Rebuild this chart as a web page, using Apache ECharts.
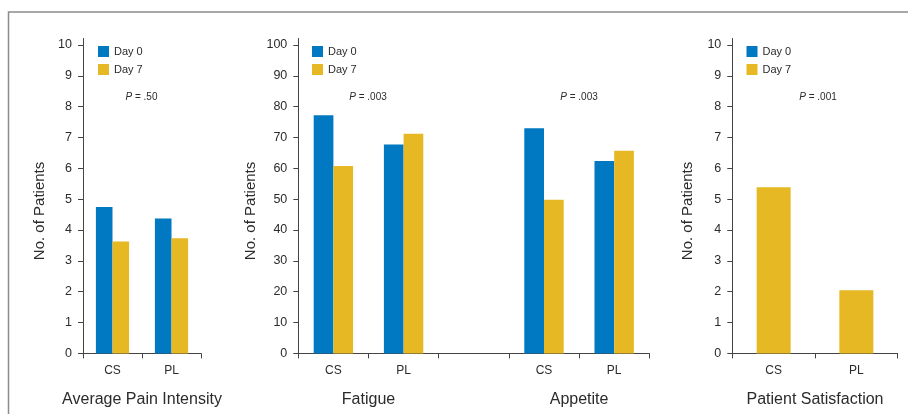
<!DOCTYPE html>
<html>
<head>
<meta charset="utf-8">
<script src="https://cdn.jsdelivr.net/npm/echarts@6/dist/echarts.min.js"></script>
<style>
  html, body { margin: 0; padding: 0; background: #fff; }
  #chart { width: 908px; height: 414px; }
</style>
</head>
<body>
<div id="chart"></div>
<script>
// ---- data ----
const painCategories = ['CS', 'PL'];
const painDay0 = [4.75, 4.37];
const painDay7 = [3.63, 3.73];

const faCategories = ['CS', 'PL', '', 'CS', 'PL'];
const faDay0 = [77.2, 67.7, null, 73.0, 62.4];
const faDay7 = [60.8, 71.2, null, 49.8, 65.7];
const faGroupLabels = ['', 'Fatigue', '', '', 'Appetite', ''];

const satCategories = ['CS', 'PL'];
const satDay7 = [5.39, 2.05];

const ticksSmall = [0, 1, 2, 3, 4, 5, 6, 7, 8, 9, 10];
const ticksLarge = [0, 10, 20, 30, 40, 50, 60, 70, 80, 90, 100];

const seriesNames = ['Day 0', 'Day 7'];
const pValues = ['.50', '.003', '.003', '.001'];
const panelTitles = ['Average Pain Intensity', 'Fatigue', 'Appetite', 'Patient Satisfaction'];
// ---------------

const BLUE = '#0079C2';
const YELLOW = '#E6B823';
const TXT = '#2b2b2b';
const AXIS = '#444';
const SANS = "'Liberation Sans', Arial, Helvetica, sans-serif";

const chart = echarts.init(document.getElementById('chart'), null, { renderer: 'canvas' });

function yAxis(gridIndex, max, ticks, nameGap) {
  return {
    type: 'value', gridIndex, min: 0, max,
    name: 'No. of Patients', nameLocation: 'middle', nameGap,
    nameTextStyle: { fontFamily: SANS, fontSize: 15, color: TXT, padding: [0, 30, 0, 0] },
    axisLine: { show: true, lineStyle: { color: AXIS, width: 1 } },
    axisTick: { show: true, length: 5, lineStyle: { color: AXIS }, customValues: ticks },
    axisLabel: { fontFamily: SANS, fontSize: 12.5, color: TXT, margin: 11, customValues: ticks },
    splitLine: { show: false }
  };
}
function xAxis(gridIndex, data, name) {
  return {
    type: 'category', gridIndex, data,
    name: name || '', nameLocation: 'middle', nameGap: 38,
    nameTextStyle: { fontFamily: SANS, fontSize: 16, color: TXT },
    axisLine: { show: true, lineStyle: { color: AXIS, width: 1 } },
    axisTick: { show: true, length: 5, lineStyle: { color: AXIS } },
    axisLabel: { fontFamily: SANS, fontSize: 12, color: TXT, margin: 11, interval: 0 }
  };
}
function legend(left) {
  return {
    left, top: 46, orient: 'vertical', padding: 0,
    itemWidth: 11, itemHeight: 11, itemGap: 7, icon: 'rect',
    data: seriesNames,
    textStyle: { fontFamily: SANS, fontSize: 11, color: TXT }
  };
}
function pTitle(left, p) {
  return {
    text: '{i|P} = ' + p, left, top: 92, textAlign: 'center', padding: 0,
    textStyle: { fontFamily: SANS, fontSize: 10, fontWeight: 'normal', color: TXT,
      rich: { i: { fontFamily: SANS, fontSize: 10, fontStyle: 'italic', color: TXT } } }
  };
}

const option = {
  animation: false,
  backgroundColor: '#fff',
  color: [BLUE, YELLOW],
  grid: [
    { left: 83, top: 38.5, width: 118, height: 314.9 },
    { left: 298.3, top: 38.5, width: 351, height: 314.9 },
    { left: 732.3, top: 38.5, width: 165.4, height: 314.9 }
  ],
  xAxis: [
    xAxis(0, painCategories, panelTitles[0]),
    xAxis(1, faCategories),
    {
      type: 'category', gridIndex: 1, data: faGroupLabels, boundaryGap: false, position: 'bottom', offset: 0,
      axisLine: { show: false }, axisTick: { show: false },
      axisLabel: { fontFamily: SANS, fontSize: 16, color: TXT, margin: 38, interval: 0 }
    },
    xAxis(2, satCategories, panelTitles[3])
  ],
  yAxis: [
    yAxis(0, 10.21, ticksSmall, 36),
    yAxis(1, 102.1, ticksLarge, 40),
    yAxis(2, 10.21, ticksSmall, 37)
  ],
  legend: [legend(98), legend(312), legend(746.5)],
  title: [pTitle(141.5, pValues[0]), pTitle(368, pValues[1]), pTitle(579, pValues[2]), pTitle(818, pValues[3])],
  series: [
    { name: seriesNames[0], type: 'bar', xAxisIndex: 0, yAxisIndex: 0, data: painDay0, barWidth: 16.6, barGap: 0, itemStyle: { color: BLUE } },
    { name: seriesNames[1], type: 'bar', xAxisIndex: 0, yAxisIndex: 0, data: painDay7, barWidth: 16.6, barGap: 0, itemStyle: { color: YELLOW } },
    { name: seriesNames[0], type: 'bar', xAxisIndex: 1, yAxisIndex: 1, data: faDay0, barWidth: 19.7, barGap: 0, itemStyle: { color: BLUE } },
    { name: seriesNames[1], type: 'bar', xAxisIndex: 1, yAxisIndex: 1, data: faDay7, barWidth: 19.7, barGap: 0, itemStyle: { color: YELLOW } },
    { name: seriesNames[1], type: 'bar', xAxisIndex: 3, yAxisIndex: 2, data: satDay7, barWidth: 34, itemStyle: { color: YELLOW } }
  ],
  graphic: [
    { type: 'polyline', silent: true, shape: { points: [[8.5, 414], [8.5, 12], [908, 12]] },
      style: { stroke: '#8c8c8c', lineWidth: 1.5, fill: null } }
  ]
};
chart.setOption(option);
</script>
</body>
</html>
